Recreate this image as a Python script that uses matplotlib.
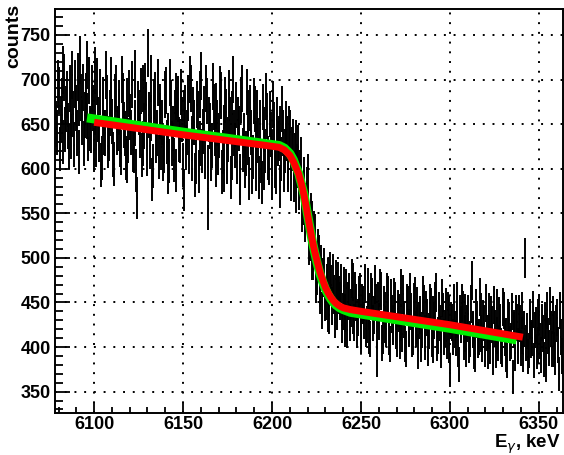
#!/usr/bin/env python

import numpy as np
import matplotlib
matplotlib.use('Agg')
from matplotlib import pyplot as plt
from matplotlib.ticker import MultipleLocator

# Histogram: 0.5 keV bins starting at 6078 keV (one row = 10 keV)
bin_start = 6078
bin_width = 0.5
counts = [
    672, 650, 641, 695, 688, 622, 655, 676, 630, 711, 702, 644, 667, 683, 648, 625, 690, 662, 636, 705,
    661, 627, 695, 668, 640, 703, 674, 619, 722, 680, 652, 691, 628, 660, 681, 716, 659, 634, 699, 645,
    643, 690, 668, 621, 710, 664, 627, 698, 655, 633, 686, 604, 612, 677, 662, 641, 640, 705, 679, 626,
    634, 662, 671, 699, 653, 616, 605, 680, 690, 641, 645, 673, 664, 627, 618, 700, 681, 649, 639, 612,
    676, 609, 632, 684, 658, 641, 694, 621, 620, 706, 651, 598, 567, 672, 663, 637, 687, 615, 628, 690,
    648, 692, 671, 617, 730, 660, 625, 701, 657, 588, 603, 675, 682, 631, 640, 697, 613, 659, 669, 624,
    652, 611, 620, 683, 688, 630, 637, 596, 609, 697, 674, 628, 645, 610, 662, 681, 598, 666, 678, 633,
    631, 686, 655, 604, 576, 663, 668, 624, 641, 679, 619, 700, 690, 611, 634, 666, 652, 593, 607, 672,
    661, 597, 628, 683, 704, 620, 642, 667, 613, 690, 676, 602, 555, 655, 648, 611, 626, 692, 669, 640,
    604, 670, 651, 618, 637, 689, 682, 596, 619, 646, 598, 677, 664, 607, 633, 684, 655, 590, 612, 661,
    700, 640, 626, 671, 608, 655, 645, 584, 592, 677, 690, 621, 637, 603, 617, 686, 662, 629, 589, 668,
    641, 596, 613, 676, 667, 628, 600, 662, 632, 590, 652, 609, 585, 669, 644, 601, 620, 681, 659, 612,
    606, 661, 638, 589, 617, 672, 649, 603, 596, 655, 628, 634, 645, 580, 611, 667, 640, 598, 620, 650,
    634, 602, 598, 645, 641, 588, 622, 631, 587, 615, 630, 574, 603, 624, 578, 596, 611, 552, 560, 589,
    575, 541, 560, 578, 592, 515, 519, 549, 540, 497, 498, 530, 526, 471, 480, 510, 503, 466, 458, 492,
    441, 478, 489, 450, 452, 471, 478, 438, 436, 485, 470, 446, 482, 459, 431, 476, 465, 440, 474, 458,
    452, 471, 425, 440, 468, 421, 438, 466, 419, 452, 461, 428, 444, 477, 473, 435, 428, 463, 450, 419,
    433, 458, 462, 414, 418, 449, 447, 430, 471, 420, 425, 467, 440, 412, 409, 461, 456, 427, 436, 470,
    450, 418, 386, 452, 429, 466, 463, 405, 412, 447, 441, 425, 420, 462, 458, 411, 403, 455, 437, 423,
    426, 456, 452, 418, 409, 443, 438, 407, 466, 428, 415, 459, 431, 403, 398, 450, 447, 420, 422, 462,
    440, 409, 411, 451, 457, 420, 424, 446, 395, 430, 436, 403, 419, 458, 448, 415, 406, 442, 433, 399,
    418, 449, 445, 409, 402, 436, 430, 452, 461, 404, 413, 441, 427, 414, 396, 455, 440, 411, 421, 445,
    407, 441, 436, 402, 374, 430, 428, 411, 449, 420, 410, 452, 431, 398, 380, 437, 425, 449, 442, 406,
    415, 438, 398, 426, 437, 402, 409, 448, 475, 419, 420, 395, 392, 444, 431, 408, 411, 456, 440, 415,
    403, 432, 427, 398, 449, 416, 395, 440, 418, 401, 436, 425, 388, 447, 421, 396, 444, 413, 405, 435,
    428, 401, 398, 445, 441, 410, 412, 392, 385, 433, 430, 404, 407, 440, 366, 421, 419, 393, 437, 428,
    401, 437, 426, 399, 413, 441, 392, 420, 500, 405, 418, 389, 396, 430, 433, 408, 410, 442, 385, 419,
    424, 395, 402, 433, 439, 407, 391, 428, 415, 386, 430, 418, 380, 441, 412, 399, 446, 420, 398, 436,
    420, 397, 388, 426, 433, 402, 370, 441, 411, 390,
]

# Fit curves
red_x = [6100, 6150, 6195, 6204, 6207, 6210, 6212, 6213.5, 6215, 6216.5,
         6218, 6219.5, 6221, 6222.5, 6224, 6225.5, 6227, 6228.5, 6230,
         6231.5, 6233, 6234.5, 6236, 6238, 6240, 6244, 6250, 6300, 6341]
red_y = [652, 638, 626.5, 624, 621, 615, 608, 601, 594, 583,
         570, 554, 537, 521, 507, 495, 484, 475, 467,
         461, 456, 452, 449, 446, 444, 442, 440, 425, 411]

green_x = [6096, 6150, 6195, 6204, 6207, 6210, 6212, 6213.5, 6215, 6216.5,
           6218, 6219.5, 6221, 6222.5, 6224, 6225.5, 6227, 6228.5, 6230,
           6231.5, 6233, 6234.5, 6236, 6238, 6240, 6244, 6250, 6300, 6337.5]
green_y = [657, 641, 628.5, 626, 623, 617, 610, 602, 595, 583,
           571, 554, 537, 520, 506, 493, 482, 473, 465,
           459, 454, 450, 447, 444, 442, 439, 437, 421, 408]

font = {'family': 'Liberation Sans', 'weight': 'bold'}


def plot():
    fig = plt.figure(figsize=(5.64, 4.55), dpi=100)
    ax = fig.add_axes([0.0975, 0.0923, 0.9005, 0.8877])

    y = np.array(counts, dtype=float)
    x = bin_start + bin_width * (np.arange(len(y)) + 0.5)
    ax.errorbar(x, y, xerr=bin_width / 2, yerr=np.sqrt(y), fmt='none',
                ecolor='black', elinewidth=1.4, capsize=0, zorder=3)

    ax.plot(green_x, green_y, color='#00ee00', lw=6.5,
            solid_capstyle='butt', solid_joinstyle='round', zorder=4)
    ax.plot(red_x, red_y, color='#ff0000', lw=5.0,
            solid_capstyle='butt', solid_joinstyle='round', zorder=5)

    ax.set_xlim(6078, 6363.5)
    ax.set_ylim(326, 779)

    ax.xaxis.set_major_locator(MultipleLocator(50))
    ax.xaxis.set_minor_locator(MultipleLocator(10))
    ax.yaxis.set_major_locator(MultipleLocator(50))
    ax.yaxis.set_minor_locator(MultipleLocator(10))

    ax.tick_params(which='both', direction='in', top=False, right=False,
                   width=1.3, color='black')
    ax.tick_params(axis='y', which='major', length=11, pad=3)
    ax.tick_params(axis='y', which='minor', length=6)
    ax.tick_params(axis='x', which='major', length=8, pad=2)
    ax.tick_params(axis='x', which='minor', length=4.5)

    for lab in ax.get_xticklabels() + ax.get_yticklabels():
        lab.set_fontfamily(font['family'])
        lab.set_fontweight('bold')
        lab.set_fontsize(13)

    ax.grid(True, which='major', color='black', linestyle=(0, (1, 4)), lw=1.4)
    ax.set_axisbelow(True)

    for side in ['left', 'bottom', 'top', 'right']:
        ax.spines[side].set_linewidth(1.4)

    fig.text(14 / 564, 1 - 4 / 455, 'counts', rotation=90, ha='center',
             va='top', fontsize=14, **font)
    fig.text(561 / 564, 1 - 448 / 455, r'E$_\gamma$, keV', ha='right',
             va='baseline', fontsize=13.5, **font)

    fig.savefig('out.png', dpi=100)
    plt.close(fig)


def main():
    plot()


if __name__ == '__main__':
    main()
